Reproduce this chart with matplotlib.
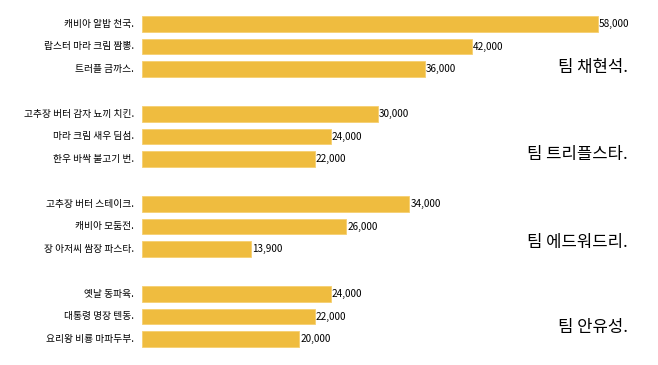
import matplotlib.pyplot as plt

plt.rcParams['font.family'] = ['Noto Sans CJK KR', 'DejaVu Sans']

# menu items per team, top to bottom
teams = ['팀 채현석.', '팀 트리플스타.', '팀 에드워드리.', '팀 안유성.']
dishes = [
    ['캐비아 알밥 천국.', '랍스터 마라 크림 짬뽕.', '트러플 금까스.'],
    ['고추장 버터 감자 뇨끼 치킨.', '마라 크림 새우 딤섬.', '한우 바싹 불고기 번.'],
    ['고추장 버터 스테이크.', '캐비아 모둠전.', '장 아저씨 쌈장 파스타.'],
    ['옛날 동파육.', '대통령 명장 텐동.', '요리왕 비룡 마파두부.'],
]
sales = [
    [58000, 42000, 36000],
    [30000, 24000, 22000],
    [34000, 26000, 13900],
    [24000, 22000, 20000],
]
team_label_y = [1.95, 5.8, 9.7, 13.5]

fig = plt.figure(figsize=(6.58, 3.65), dpi=100)
ax = fig.add_axes([142 / 658, 0, 498 / 658, 1])
xmax = 58000 * 498 / 456
px = xmax / 498  # data units per pixel

labels, values, ypos = [], [], []
for g in range(len(teams)):
    for i in range(3):
        labels.append(dishes[g][i])
        values.append(sales[g][i])
        ypos.append(g * 4 + i)

ax.barh(ypos, values, height=0.71, color='#EFBC3F', edgecolor='#F6CF70', linewidth=0.6)

for y, v, lab in zip(ypos, values, labels):
    ax.text(v + px, y, f'{v:,}', va='center', ha='left', fontsize=7.2)
    ax.text(-8 * px, y, lab, va='center', ha='right', fontsize=7)

for t, y in zip(teams, team_label_y):
    ax.text(486 * px, y, t, va='center', ha='right', fontsize=12)

ax.set_xlim(0, xmax)
ax.set_ylim(14 + (365 - 339) / 22.5, -24 / 22.5)
ax.axis('off')

fig.savefig('out.png', dpi=100)
